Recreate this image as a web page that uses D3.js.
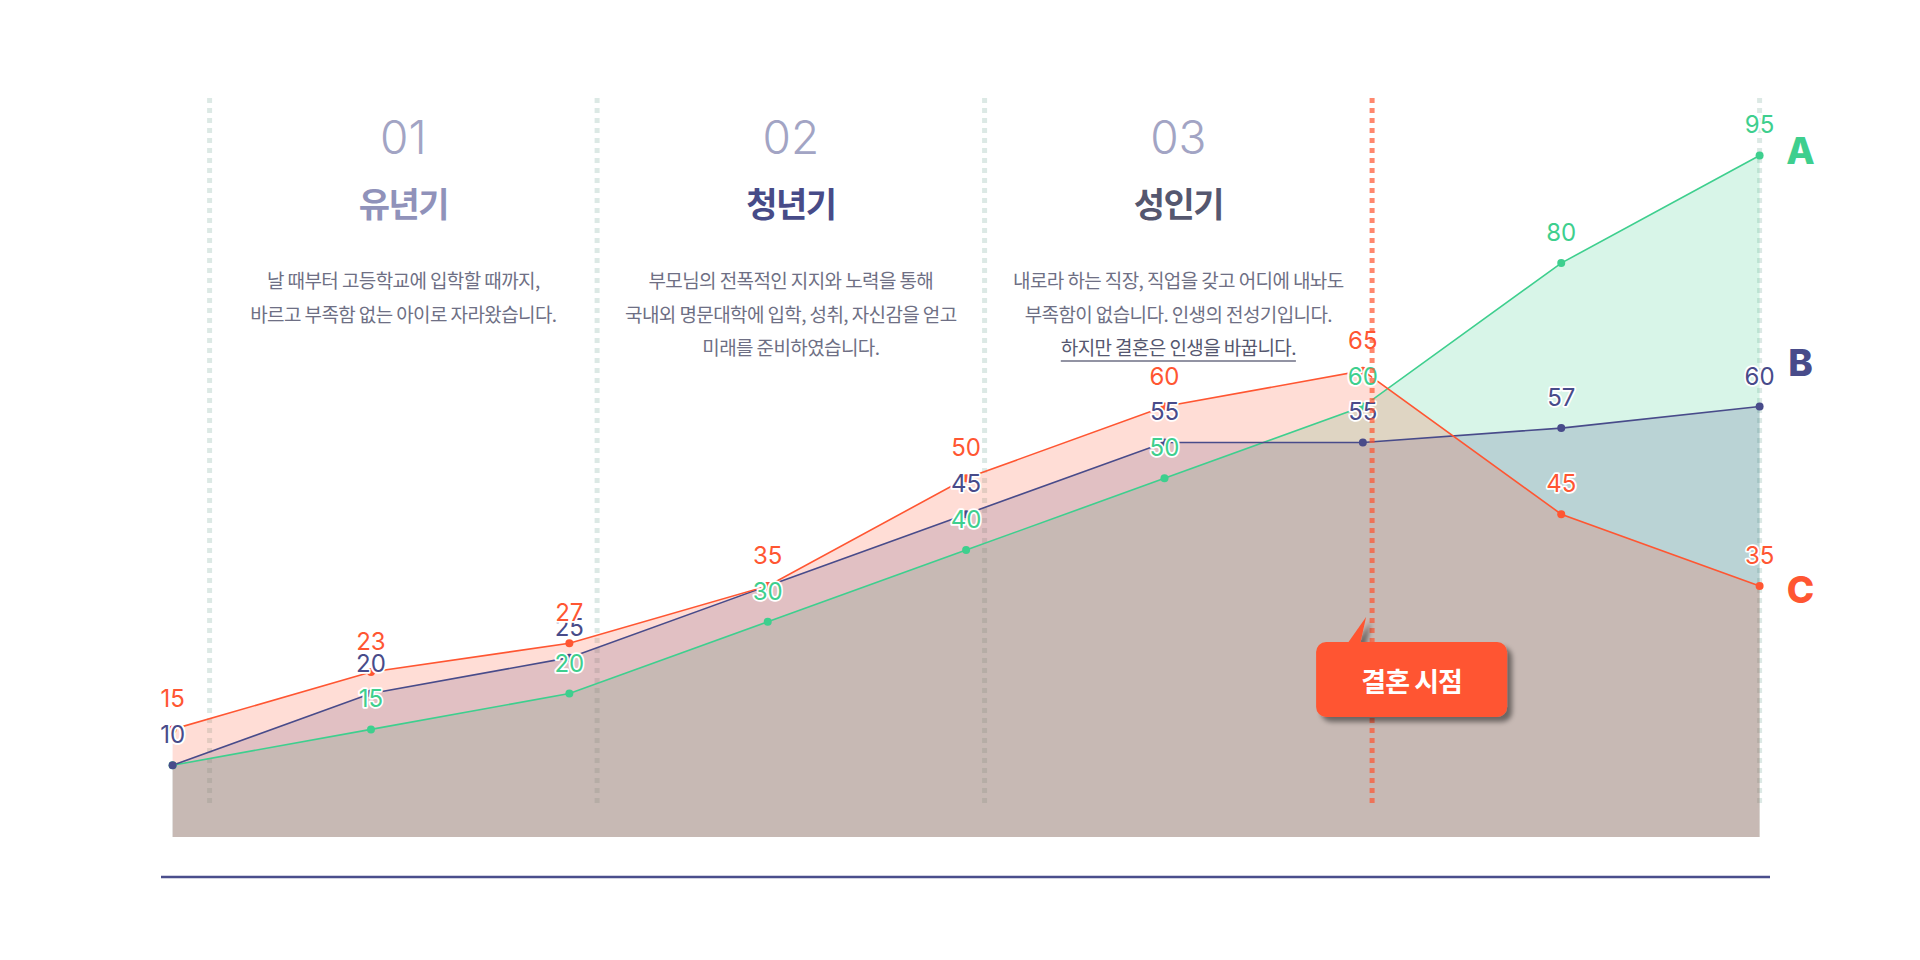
<!DOCTYPE html>
<html><head><meta charset="utf-8">
<script src="https://cdn.jsdelivr.net/npm/d3@7"></script>
<style>
html,body{margin:0;padding:0;background:#fff;}
svg{display:block;}
</style></head>
<body>
<svg id="chart" width="1920" height="960"></svg>
<script>
// ---------- data ----------
const categories = ["1","2","3","4","5","6","7","8","9"];
const seriesNames = ["A","B","C"];
const seriesA = [10,15,20,30,40,50,60,80,95];
const seriesB = [10,20,25,35,45,55,55,57,60];
const seriesC = [15,23,27,35,50,60,65,45,35];
const sections = ["01","02","03","04"];
const sectionNumbers = ["01","02","03"];
const sectionTitles = ["유년기","청년기","성인기"];
const sectionTexts = [
  ["날 때부터 고등학교에 입학할 때까지,","바르고 부족함 없는 아이로 자라왔습니다."],
  ["부모님의 전폭적인 지지와 노력을 통해","국내외 명문대학에 입학, 성취, 자신감을 얻고","미래를 준비하였습니다."],
  ["내로라 하는 직장, 직업을 갖고 어디에 내놔도","부족함이 없습니다. 인생의 전성기입니다.","하지만 결혼은 인생을 바꿉니다."]
];
const calloutText = "결혼 시점";

// ---------- styles ----------
const colors = {A:"#3ecf8e", B:"#484b8a", C:"#ff5632"};
const endLabelOffset = {A:-5, B:-44, C:4};
const titleColors = ["#9092ba","#474b88","#55576f"];
const KR = "'Noto Sans CJK KR','Noto Sans',sans-serif";
const NUM = "Inter,'Noto Sans',sans-serif";

const svg = d3.select("#chart");
const defs = svg.append("defs");
const f = defs.append("filter").attr("id","shadow").attr("x","-20%").attr("y","-30%").attr("width","150%").attr("height","180%");
f.append("feDropShadow").attr("dx",5).attr("dy",5).attr("stdDeviation",2.5)
 .attr("flood-color","#000").attr("flood-opacity",0.45);

const x = d3.scalePoint().domain(categories).range([172.6,1759.6]);
const y = d3.scaleLinear().domain([0,100]).range([837,119.6]);
const sx = d3.scaleBand().domain(sections).range([209.6,1759.6]);

const data = {A:seriesA, B:seriesB, C:seriesC};

// section dotted separators (under the areas)
const sepX = sections.map(s=>sx(s)).concat([sx.range()[1]]);
const lineTop = 98, lineBottom = 808;
svg.append("g").selectAll("line").data(sepX.filter((d,i)=>i!==3)).join("line")
  .attr("x1",d=>d).attr("x2",d=>d).attr("y1",lineTop).attr("y2",lineBottom)
  .attr("stroke","#dce9e5").attr("stroke-width",5).attr("stroke-dasharray","5,5");

// areas
const area = d3.area().x((d,i)=>x(categories[i])).y0(y(0)).y1(d=>y(d));
const line = d3.line().x((d,i)=>x(categories[i])).y(d=>y(d));
const gA = svg.append("g");
seriesNames.forEach(n=>{
  gA.append("path").attr("d",area(data[n])).attr("fill",colors[n]).attr("fill-opacity",0.2);
});
seriesNames.forEach(n=>{
  gA.append("path").attr("d",line(data[n])).attr("fill","none").attr("stroke",colors[n]).attr("stroke-width",1.6);
});
seriesNames.forEach(n=>{
  gA.append("g").selectAll("circle").data(data[n]).join("circle")
    .attr("cx",(d,i)=>x(categories[i])).attr("cy",d=>y(d)).attr("r",4).attr("fill",colors[n]);
});
// value labels
seriesNames.forEach(n=>{
  gA.append("g").selectAll("text").data(data[n]).join("text")
    .attr("x",(d,i)=>x(categories[i])).attr("y",d=>y(d)-22)
    .attr("text-anchor","middle").attr("font-family",NUM).attr("font-size",24)
    .attr("fill",colors[n]).attr("stroke","#fff").attr("stroke-width",3.5)
    .attr("paint-order","stroke").attr("stroke-linejoin","round")
    .text(d=>d);
});

// marriage line
const mx = sx("04");
svg.append("line").attr("x1",mx).attr("x2",mx).attr("y1",lineTop).attr("y2",lineBottom)
  .attr("stroke","#ff5530").attr("stroke-opacity",0.7).attr("stroke-width",5).attr("stroke-dasharray","5,5");

// end letters
seriesNames.forEach((n,k)=>{
  const arr = data[n];
  svg.append("text").attr("x",x(categories[categories.length-1])+41)
    .attr("y",y(arr[arr.length-1])+endLabelOffset[n])
    .attr("text-anchor","middle").attr("dominant-baseline","central")
    .attr("font-family",NUM).attr("font-weight",800).attr("font-size",37)
    .attr("fill",colors[n]).text(n);
});

// baseline axis line
svg.append("line").attr("x1",161).attr("x2",1770).attr("y1",877).attr("y2",877)
  .attr("stroke","#4a4e8c").attr("stroke-width",2.5);

// section headers
sectionNumbers.forEach((s,i)=>{
  const cx = sx(sections[i]) + sx.bandwidth()/2;
  svg.append("text").attr("x",cx).attr("y",154).attr("text-anchor","middle")
    .attr("font-family",NUM).attr("font-weight",300).attr("font-size",46)
    .attr("fill","#a2a4c4").text(s);
  svg.append("text").attr("x",cx).attr("y",217).attr("text-anchor","middle")
    .attr("font-family",KR).attr("font-weight",700).attr("font-size",34)
    .attr("letter-spacing",-1.5).attr("fill",titleColors[i]).text(sectionTitles[i]);
  sectionTexts[i].forEach((t,j)=>{
    const last = (i===2 && j===2);
    const tx = svg.append("text").attr("x",cx).attr("y",288+j*33.5).attr("text-anchor","middle")
      .attr("font-family",KR).attr("font-size",19).attr("letter-spacing",-0.6)
      .attr("fill", last ? "#55576f" : "#6e6f84").text(t);
    if(last){
      const w = tx.node().getComputedTextLength();
      svg.append("line").attr("x1",cx-w/2).attr("x2",cx+w/2).attr("y1",288+j*33.5+6).attr("y2",288+j*33.5+6)
        .attr("stroke","#6e6f84").attr("stroke-width",1.3);
    }
  });
});

// callout
const cg = svg.append("g").attr("filter","url(#shadow)");
const bx = mx-56, by = 642, bw = 191, bh = 75;
cg.append("path").attr("d",`M${bx+31},${by+2} L${mx-6},${by-25} L${mx-12},${by+2} Z`).attr("fill","#ff5530");
cg.append("rect").attr("x",bx).attr("y",by).attr("width",bw).attr("height",bh).attr("rx",10).attr("fill","#ff5530");
svg.append("text").attr("x",bx+bw/2).attr("y",by+bh/2+1).attr("text-anchor","middle").attr("dominant-baseline","central")
  .attr("font-family",KR).attr("font-weight",700).attr("font-size",27).attr("letter-spacing",-1)
  .attr("fill","#fff").text(calloutText);
</script>
</body></html>
